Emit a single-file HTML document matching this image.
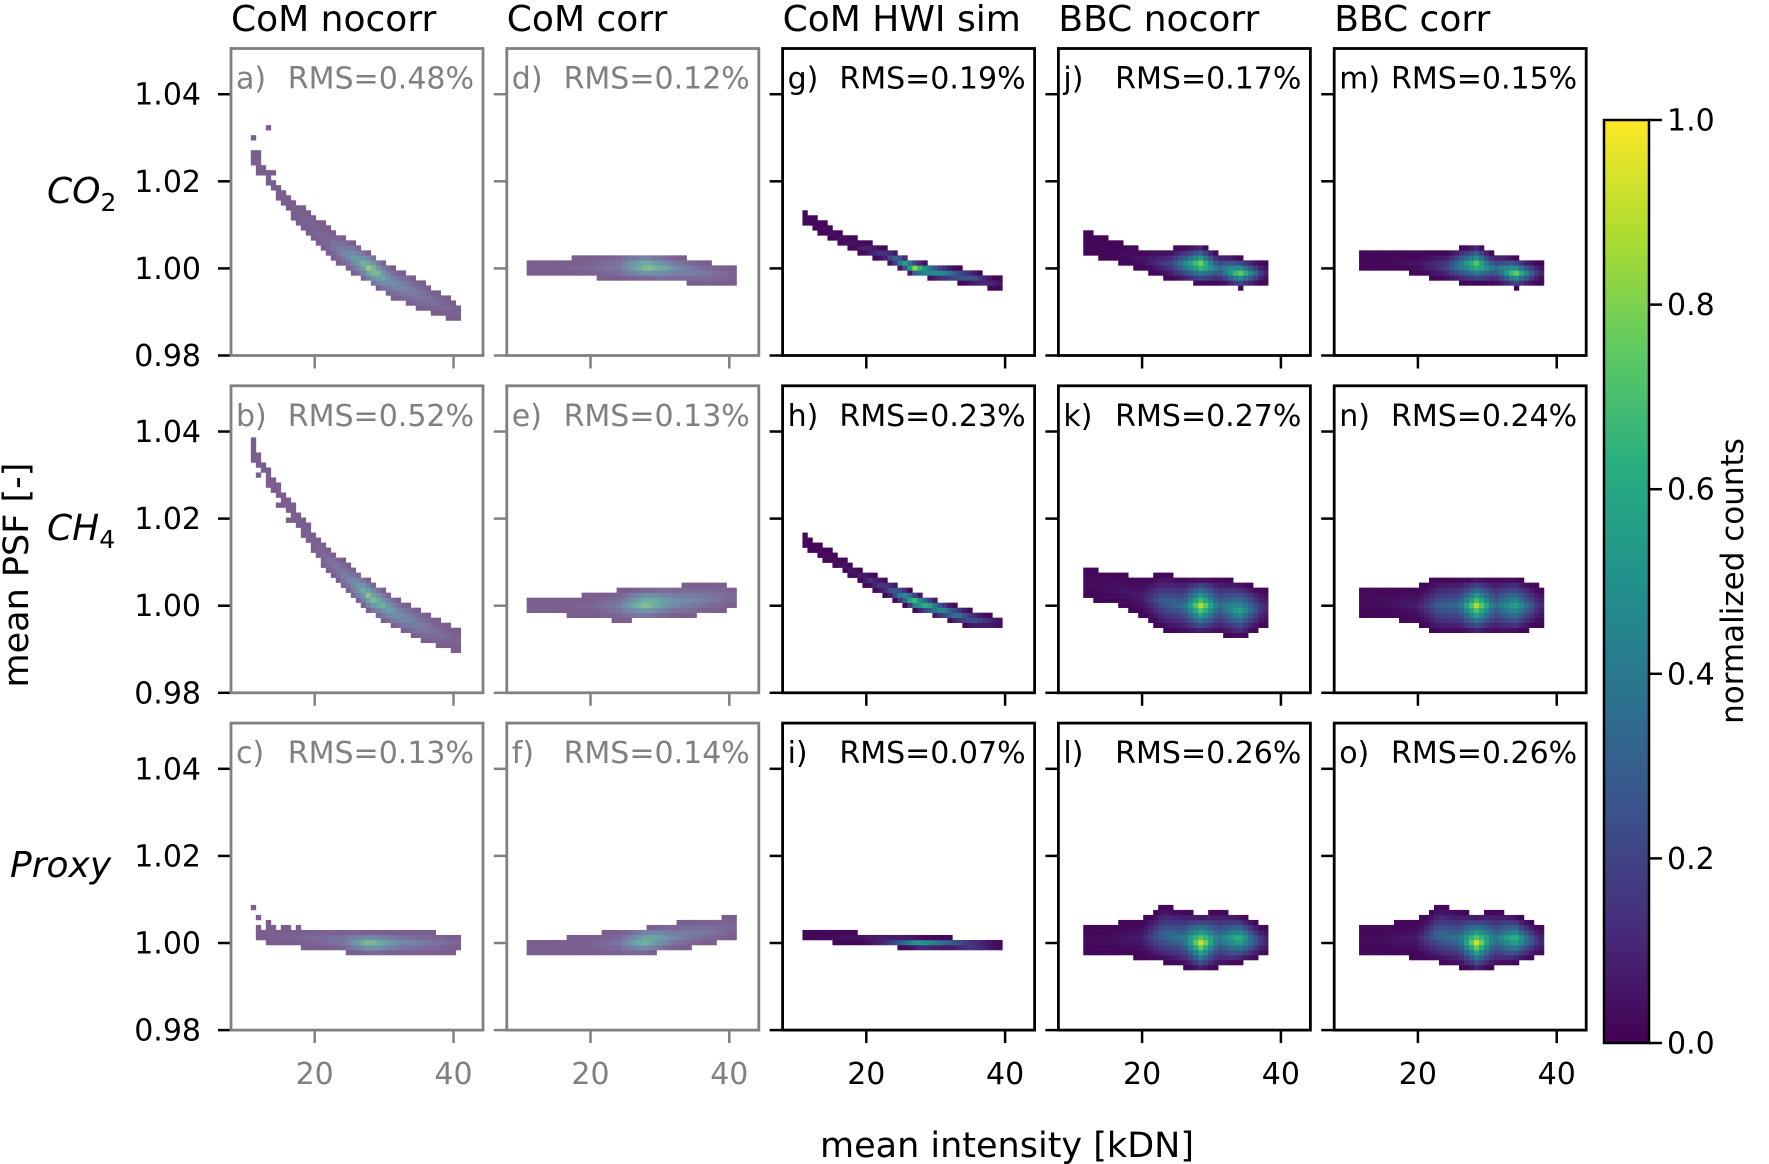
<!DOCTYPE html>
<html><head><meta charset="utf-8">
<style>
html,body{margin:0;padding:0;background:#fff;}
svg{display:block;font-family:"DejaVu Sans","Liberation Sans",sans-serif;}
</style></head>
<body>
<svg id="fig" width="1769" height="1164" viewBox="0 0 1769 1164" xmlns="http://www.w3.org/2000/svg">
<defs>
<linearGradient id="vir" x1="0" y1="1" x2="0" y2="0">
<stop offset="0" stop-color="#440154"/><stop offset="0.125" stop-color="#472d7b"/>
<stop offset="0.25" stop-color="#3b528b"/><stop offset="0.375" stop-color="#2c728e"/>
<stop offset="0.5" stop-color="#21918c"/><stop offset="0.625" stop-color="#28ae80"/>
<stop offset="0.75" stop-color="#5ec962"/><stop offset="0.875" stop-color="#addc30"/>
<stop offset="1" stop-color="#fde725"/>
</linearGradient>
</defs>
<g id="cells"></g>
<g id="axes"></g>
<text x="0" y="0" font-size="35" text-anchor="middle" transform="translate(28,575) rotate(-90)">mean PSF [-]</text>
<text x="1007" y="1157" font-size="35" text-anchor="middle">mean intensity [kDN]</text>
<text x="47" y="203" font-size="36" font-style="italic">CO<tspan font-size="25" dy="8" font-style="normal">2</tspan></text>
<text x="47" y="540" font-size="36" font-style="italic">CH<tspan font-size="25" dy="8" font-style="normal">4</tspan></text>
<text x="10" y="877" font-size="36" font-style="italic">Proxy</text>
<g>
<rect x="1604" y="120" width="45" height="923" fill="url(#vir)" stroke="#000" stroke-width="2.5"/>
<g id="cbticks"></g>
<text x="0" y="0" font-size="31" text-anchor="middle" transform="translate(1743,581) rotate(-90)">normalized counts</text>
</g>
</svg>
<script>
// ---- chart data (knots) ----
const colTitles = ["CoM nocorr","CoM corr","CoM HWI sim","BBC nocorr","BBC corr"];
const yTicks = [0.98, 1.00, 1.02, 1.04];
const yTickLabels = ["0.98","1.00","1.02","1.04"];
const xTicks = [20, 40];
const xTickLabels = ["20","40"];
const cbTicks = [0.0, 0.2, 0.4, 0.6, 0.8, 1.0];
const cbTickLabels = ["0.0","0.2","0.4","0.6","0.8","1.0"];
const panelLetters = ["a)","b)","c)","d)","e)","f)","g)","h)","i)","j)","k)","l)","m)","n)","o)"];
const panelRMS = ["RMS=0.48%","RMS=0.52%","RMS=0.13%","RMS=0.12%","RMS=0.13%","RMS=0.14%","RMS=0.19%","RMS=0.23%","RMS=0.07%","RMS=0.17%","RMS=0.27%","RMS=0.26%","RMS=0.15%","RMS=0.24%","RMS=0.26%"];

const a_x=[11,15,18,22,26,28,31,35,40.5];
const a_y=[1.026,1.017,1.012,1.006,1.002,1.000,0.997,0.994,0.990];
const a_w=[0.001,0.001,0.002,0.003,0.003,0.003,0.003,0.003,0.0015];
const a_v=[0.03,0.03,0.05,0.1,0.5,0.95,0.4,0.2,0.05];
const a_ox=[10.8,12,11.5,12,13,14,15,16,13];
const a_oy=[1.030,1.027,1.025,1.022,1.022,1.022,1.018,1.015,1.032];

const b_x=[11,14,18,21,25,28,32,36,40.5];
const b_y=[1.036,1.028,1.019,1.012,1.006,1.002,0.998,0.995,0.992];
const b_w=[0.001,0.001,0.0015,0.002,0.003,0.003,0.003,0.003,0.002];
const b_v=[0.03,0.03,0.04,0.08,0.3,0.85,0.4,0.2,0.05];
const b_ox=[11,11,12,13,14,15,16];
const b_oy=[1.038,1.033,1.030,1.028,1.026,1.023,1.020];

const c_x=[12,16,20,24,28,32,36,41];
const c_y=[1.002,1.0015,1.001,1.0005,1.0,1.0,1.0,1.0];
const c_w=[0.001,0.0015,0.002,0.002,0.002,0.002,0.002,0.0015];
const c_v=[0.03,0.05,0.1,0.2,0.8,0.35,0.2,0.05];
const c_ox=[11,12,13,12];
const c_oy=[1.008,1.006,1.005,1.004];

const d_x=[11,16,20,24,28,32,36,41];
const d_y=[1.0,1.0,1.0005,1.0005,1.0005,1.0,0.999,0.9985];
const d_w=[0.0015,0.0015,0.002,0.0025,0.0025,0.0025,0.002,0.0015];
const d_v=[0.03,0.03,0.08,0.2,0.9,0.4,0.2,0.05];

const e_x=[11,16,20,24,28,32,36,41];
const e_y=[1.0,1.0,1.0,1.0,1.0005,1.001,1.0015,1.002];
const e_w=[0.0015,0.0015,0.002,0.003,0.003,0.003,0.003,0.002];
const e_v=[0.03,0.03,0.06,0.2,0.9,0.4,0.25,0.08];

const f_x=[11,16,20,24,28,32,36,41];
const f_y=[0.999,0.999,0.9995,1.0,1.0005,1.0015,1.0025,1.0035];
const f_w=[0.0015,0.0015,0.002,0.0025,0.0025,0.0025,0.0025,0.002];
const f_v=[0.03,0.03,0.05,0.15,0.8,0.3,0.2,0.06];

const g_x=[11,15,19,23,27,31,35,39];
const g_y=[1.012,1.008,1.005,1.003,1.0,0.999,0.998,0.9965];
const g_w=[0.001,0.001,0.001,0.0012,0.0012,0.0012,0.0012,0.001];
const g_v=[0.03,0.04,0.08,0.2,0.9,0.5,0.3,0.06];

const h_x=[11,15,19,23,27,31,35,39];
const h_y=[1.015,1.011,1.007,1.004,1.001,0.999,0.997,0.996];
const h_w=[0.001,0.001,0.001,0.0015,0.0015,0.0015,0.0015,0.001];
const h_v=[0.03,0.04,0.08,0.2,0.8,0.5,0.3,0.08];

const i_x=[11,15,19,23,28,32,35,39];
const i_y=[1.002,1.0015,1.001,1.0005,1.0,1.0,0.9995,0.9995];
const i_w=[0.0008,0.0008,0.0008,0.0008,0.0008,0.0008,0.0008,0.0008];
const i_v=[0.03,0.04,0.06,0.2,0.6,0.35,0.3,0.05];

const j_x=[12,16,20,24,28.5,31,34,37.5];
const j_y=[1.006,1.004,1.002,1.001,1.001,1.0,0.999,0.999];
const j_w=[0.002,0.002,0.002,0.003,0.004,0.003,0.003,0.002];
const j_v=[0.03,0.03,0.06,0.2,0.85,0.35,0.8,0.1];

const k_x=[12,16,20,23,26,28.5,31,34,37.5];
const k_y=[1.005,1.004,1.002,1.001,1.0,1.0,1.0,0.999,0.9995];
const k_w=[0.003,0.003,0.004,0.006,0.006,0.006,0.006,0.006,0.004];
const k_v=[0.03,0.05,0.08,0.3,0.35,0.9,0.35,0.6,0.12];

const l_x=[12,16,20,23,26,28.5,31,34,37.5];
const l_y=[1.001,1.001,1.001,1.002,1.001,1.0,1.001,1.001,1.0005];
const l_w=[0.003,0.003,0.004,0.006,0.006,0.006,0.006,0.005,0.003];
const l_v=[0.03,0.05,0.08,0.35,0.4,0.95,0.4,0.7,0.12];

const m_x=[12,16,20,24,28.5,31,34,37.5];
const m_y=[1.002,1.002,1.001,1.0005,1.001,1.0,0.999,0.999];
const m_w=[0.0015,0.0015,0.002,0.003,0.004,0.003,0.003,0.002];
const m_v=[0.03,0.03,0.06,0.2,0.8,0.35,0.8,0.1];

const n_x=[12,16,20,23,26,28.5,31,34,37.5];
const n_y=[1.001,1.001,1.0,1.0,1.0,1.0,1.0,1.0,1.0];
const n_w=[0.003,0.003,0.004,0.006,0.006,0.006,0.006,0.006,0.004];
const n_v=[0.03,0.05,0.08,0.3,0.35,0.9,0.35,0.6,0.12];

const o_x=[12,16,20,23,26,28.5,31,34,37.5];
const o_y=[1.001,1.001,1.001,1.002,1.001,1.0,1.001,1.001,1.0005];
const o_w=[0.003,0.003,0.004,0.006,0.006,0.006,0.006,0.005,0.003];
const o_v=[0.03,0.05,0.08,0.35,0.4,0.95,0.4,0.7,0.12];

// ---- layout ----
const panels=[
 {r:0,c:0,x:a_x,y:a_y,w:a_w,v:a_v,ox:a_ox,oy:a_oy},
 {r:1,c:0,x:b_x,y:b_y,w:b_w,v:b_v,ox:b_ox,oy:b_oy},
 {r:2,c:0,x:c_x,y:c_y,w:c_w,v:c_v,ox:c_ox,oy:c_oy},
 {r:0,c:1,x:d_x,y:d_y,w:d_w,v:d_v},
 {r:1,c:1,x:e_x,y:e_y,w:e_w,v:e_v},
 {r:2,c:1,x:f_x,y:f_y,w:f_w,v:f_v},
 {r:0,c:2,x:g_x,y:g_y,w:g_w,v:g_v},
 {r:1,c:2,x:h_x,y:h_y,w:h_w,v:h_v},
 {r:2,c:2,x:i_x,y:i_y,w:i_w,v:i_v},
 {r:0,c:3,x:j_x,y:j_y,w:j_w,v:j_v},
 {r:1,c:3,x:k_x,y:k_y,w:k_w,v:k_v},
 {r:2,c:3,x:l_x,y:l_y,w:l_w,v:l_v},
 {r:0,c:4,x:m_x,y:m_y,w:m_w,v:m_v},
 {r:1,c:4,x:n_x,y:n_y,w:n_w,v:n_v},
 {r:2,c:4,x:o_x,y:o_y,w:o_w,v:o_v}
];
const NS="http://www.w3.org/2000/svg";
const PW=252, PH=307, X0=7.94, X1=44.25, Y0=0.98, Y1=1.0505;
const BX=0.72, BY=0.00115;
function pLeft(c){return 231+c*275.8;}
function pTop(r){return 48.5+r*337.3;}
function sx(c,x){return pLeft(c)+(x-X0)/(X1-X0)*PW;}
function sy(r,y){return pTop(r)+(Y1-y)/(Y1-Y0)*PH;}
const vir=[[68,1,84],[71,45,123],[59,82,139],[44,114,142],[33,145,140],[40,174,128],[94,201,98],[173,220,48],[253,231,37]];
function viridis(t){t=Math.max(0,Math.min(1,t));const f=t*8,i=Math.min(7,Math.floor(f)),u=f-i;const a=vir[i],b=vir[i+1];return [0,1,2].map(k=>a[k]+(b[k]-a[k])*u);}
function col(t,faded){let c=viridis(t);if(faded){const g=[172,174,190],al=0.48;c=c.map((v,k)=>v*al+g[k]*(1-al));}return "rgb("+c.map(Math.round).join(",")+")";}
function mk(tag,attrs,parent){const e=document.createElementNS(NS,tag);for(const k in attrs)e.setAttribute(k,attrs[k]);parent.appendChild(e);return e;}
function interp(xs,ys,x){for(let i=0;i<xs.length-1;i++){if(x>=xs[i]&&x<=xs[i+1]){const u=(x-xs[i])/(xs[i+1]-xs[i]);return ys[i]+(ys[i+1]-ys[i])*u;}}return x<xs[0]?ys[0]:ys[ys.length-1];}

const cellsG=document.getElementById('cells');
const axesG=document.getElementById('axes');

panels.forEach((p,idx)=>{
 const faded=p.c<2;
 const g=mk('g',{},cellsG);
 
 
 const cw=BX/(X1-X0)*PW, ch=BY/(Y1-Y0)*PH;
 const xStart=Math.floor(p.x[0]/BX)*BX, xEnd=p.x[p.x.length-1];
 for(let xb=xStart;xb<xEnd;xb+=BX){
  const xc=xb+BX/2;
  const yc=interp(p.x,p.y,xc), w=interp(p.x,p.w,xc), v=interp(p.x,p.v,xc);
  const yLo=Math.floor((yc-w-Y0)/BY), yHi=Math.floor((yc+w-Y0)/BY);
  for(let j=yLo;j<=yHi;j++){
   const yb=Y0+j*BY, ym=yb+BY/2;
   const d=Math.min(1,Math.abs(ym-yc)/(w+BY*0.5));
   const val=Math.max(0.02,v*Math.pow(1-d,1.2));
   const rc=mk('rect',{x:sx(p.c,xb).toFixed(2),y:sy(p.r,yb+BY).toFixed(2),width:(cw+0.3).toFixed(2),height:(ch+0.3).toFixed(2),fill:col(val,faded)},g);
   
   
  }
 }
 if(p.ox){p.ox.forEach((ox,k)=>{
  const xb=Math.floor(ox/BX)*BX, yb=Math.floor((p.oy[k]-Y0)/BY)*BY+Y0;
  const rc=mk('rect',{x:sx(p.c,xb).toFixed(2),y:sy(p.r,yb+BY).toFixed(2),width:(cw+0.3).toFixed(2),height:(ch+0.3).toFixed(2),fill:col(0.02,faded)},g);
  
  
 });}

 const ax=mk('g',{},axesG);
 
 
 const sc=faded?"#808080":"#000";
 const L=pLeft(p.c), T=pTop(p.r);
 yTicks.forEach((t,k)=>{
  const yy=sy(p.r,t);
  const tl=mk('line',{x1:L-13,x2:L,y1:yy,y2:yy,stroke:(p.c===0?"#000":sc),'stroke-width':2.5},ax);
  
  
  if(p.c===0){
   const tx=mk('text',{x:L-30,y:yy+10.5,'font-size':30,'text-anchor':'end',fill:'#000'},ax);
   tx.textContent=yTickLabels[k];
   
   
  }
 });
 xTicks.forEach((t,k)=>{
  const xx=sx(p.c,t);
  const tl=mk('line',{x1:xx,x2:xx,y1:T+PH,y2:T+PH+13,stroke:sc,'stroke-width':2.5},ax);
  
  
  if(p.r===2){
   const tx=mk('text',{x:xx,y:T+PH+54,'font-size':30,'text-anchor':'middle',fill:sc},ax);
   tx.textContent=xTickLabels[k];
   
   
  }
 });
 const fr=mk('rect',{x:L,y:T,width:PW,height:PH,fill:'none',stroke:sc,'stroke-width':2.8},ax);
 
 
 const lt=mk('text',{x:L+5,y:T+40,'font-size':30,fill:sc},ax);
 lt.textContent=panelLetters[idx];
 
 
 const rt=mk('text',{x:L+PW-9,y:T+40,'font-size':30,'text-anchor':'end',fill:sc},ax);
 rt.textContent=panelRMS[idx];
 
 
});
colTitles.forEach((t,c)=>{
 const tx=mk('text',{x:pLeft(c),y:31,'font-size':36,fill:'#000'},axesG);
 tx.textContent=t;
 
 
});
const cbG=document.getElementById('cbticks');
cbTicks.forEach((t,k)=>{
 const yy=1043-t*923;
 const tl=mk('line',{x1:1649,x2:1662,y1:yy,y2:yy,stroke:'#000','stroke-width':2.5},cbG);
 
 
 const tx=mk('text',{x:1667,y:yy+10.5,'font-size':30,fill:'#000'},cbG);
 tx.textContent=cbTickLabels[k];
 
 
});
</script>
</body></html>
